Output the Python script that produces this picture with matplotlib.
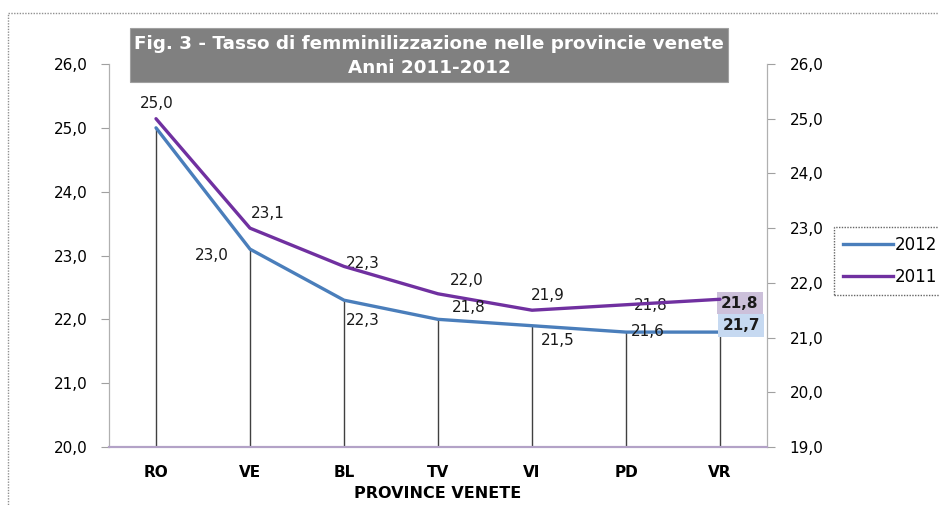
import matplotlib
matplotlib.use("Agg")
import matplotlib.pyplot as plt
from matplotlib.patches import Rectangle
from matplotlib.lines import Line2D

# ---- data ----
categories = ["RO", "VE", "BL", "TV", "VI", "PD", "VR"]
series_2012 = [25.0, 23.1, 22.3, 22.0, 21.9, 21.8, 21.8]   # left axis (blue)
series_2011 = [25.0, 23.0, 22.3, 21.8, 21.5, 21.6, 21.7]   # right axis (purple)
labels_top = ["25,0", "23,1", "22,3", "22,0", "21,9", "21,8", "21,8"]
labels_bottom = ["", "23,0", "22,3", "21,8", "21,5", "21,6", "21,7"]
left_ticks = [20, 21, 22, 23, 24, 25, 26]
right_ticks = [19, 20, 21, 22, 23, 24, 25, 26]
title_lines = ["Fig. 3 - Tasso di femminilizzazione nelle provincie venete", "Anni 2011-2012"]
xlabel = "PROVINCE VENETE"

# ---- styling / positions ----
W, H = 939, 505
BLUE = "#4a7ebb"
PURPLE = "#7030a0"
top_offsets = [(1, 24), (18, 36), (19, 37), (29, 39), (16, 30), (25, 27), (20, 29)]      # pixels
bottom_offsets = [(0, 0), (-38, -27), (19, -54), (31, -14), (26, -30), (22, -27), (21, -26)]

fig = plt.figure(figsize=(W / 100, H / 100), dpi=100)
plt.rcParams["font.family"] = ["DejaVu Sans"]

def fx(px):
    return px / W

def fy(py):
    return 1 - py / H

ax = fig.add_axes([fx(109), fy(447), fx(767) - fx(109), fy(64) - fy(447)])
ax2 = ax.twinx()
x = list(range(len(categories)))

ax.set_xlim(-0.5, len(categories) - 0.5)
ax.set_ylim(20, 26)
ax2.set_ylim(19, 26)

# drop lines from the primary series
ax.vlines(x, 20, series_2012, colors="#404040", linewidth=1.0, zorder=2)

ax.plot(x, series_2012, color=BLUE, linewidth=2.4, zorder=3, solid_capstyle="round")
ax2.plot(x, series_2011, color=PURPLE, linewidth=2.4, zorder=3, solid_capstyle="round")

pt = 72 / 100  # points per pixel
for i, (v, lab) in enumerate(zip(series_2012, labels_top)):
    dx, dy = top_offsets[i]
    kw = {}
    if i == len(categories) - 1:
        kw = dict(fontweight="bold",
                  bbox=dict(boxstyle="square,pad=0.25", fc="#ccc0da", ec="none"))
    ax.annotate(lab, (i, v), xytext=(dx * pt, dy * pt), textcoords="offset points",
                ha="center", va="center", fontsize=11, color="#1a1a1a", zorder=5, **kw)
for i, (v, lab) in enumerate(zip(series_2011, labels_bottom)):
    if not lab:
        continue
    dx, dy = bottom_offsets[i]
    kw = {}
    if i == len(categories) - 1:
        kw = dict(fontweight="bold",
                  bbox=dict(boxstyle="square,pad=0.25", fc="#c6d9f1", ec="none"))
    ax2.annotate(lab, (i, v), xytext=(dx * pt, dy * pt), textcoords="offset points",
                 ha="center", va="center", fontsize=11, color="#1a1a1a", zorder=5, **kw)

# axes styling
ax.set_xticks(x)
ax.set_xticklabels(categories, fontweight="bold", fontsize=11)
ax.tick_params(axis="x", length=0, pad=13)
ax.set_yticks(left_ticks)
ax.set_yticklabels([f"{t:.1f}".replace(".", ",") for t in left_ticks], fontsize=11)
ax.tick_params(axis="y", direction="out", length=5.8, color="#a0a0a0", pad=9.4)
ax2.set_yticks(right_ticks)
ax2.set_yticklabels([f"{t:.1f}".replace(".", ",") for t in right_ticks], fontsize=11)
ax2.tick_params(axis="y", direction="out", length=5.8, color="#a0a0a0", pad=10.5)

for a in (ax, ax2):
    a.spines["top"].set_visible(False)
    a.spines["left"].set_color("#b0b0b0")
    a.spines["left"].set_linestyle((0, (1, 1)))
    a.spines["right"].set_color("#b0b0b0")
    a.spines["right"].set_linestyle((0, (1, 1)))
    a.spines["bottom"].set_color("#b3a2c7")
    a.spines["bottom"].set_linewidth(1.5)
    a.patch.set_visible(False)

ax.set_xlabel(xlabel, fontweight="bold", fontsize=11.5, labelpad=4)

# title box
fig.patches.append(Rectangle((fx(130), fy(82)), fx(728) - fx(130), fy(28) - fy(82),
                             transform=fig.transFigure, fc="#808080", ec="#a0a0a0",
                             lw=0.8, zorder=1))
fig.text(fx(429), fy(44), title_lines[0], ha="center", va="center", color="white",
         fontweight="bold", fontsize=13.2, zorder=2)
fig.text(fx(429), fy(68), title_lines[1], ha="center", va="center", color="white",
         fontweight="bold", fontsize=13.2, zorder=2)

# outer dotted border (extends past the image on right/bottom)
fig.patches.append(Rectangle((fx(8), fy(560)), fx(1000) - fx(8), fy(13) - fy(560),
                             transform=fig.transFigure, fill=False, ec="#909090",
                             lw=1.0, ls=(0, (1, 1)), zorder=0))

# legend
handles = [Line2D([], [], color=BLUE, lw=2.4), Line2D([], [], color=PURPLE, lw=2.4)]
leg = fig.legend(handles, ["2012", "2011"], loc="upper left",
                 bbox_to_anchor=(fx(834), fy(227)), frameon=True, fancybox=False,
                 fontsize=12, handlelength=3.0, handletextpad=0.1, borderpad=0.55,
                 labelspacing=0.8, borderaxespad=0)
leg.get_frame().set_edgecolor("#404040")
leg.get_frame().set_linestyle((0, (1, 1)))
leg.get_frame().set_linewidth(1.0)

fig.savefig("out.png", dpi=100)
